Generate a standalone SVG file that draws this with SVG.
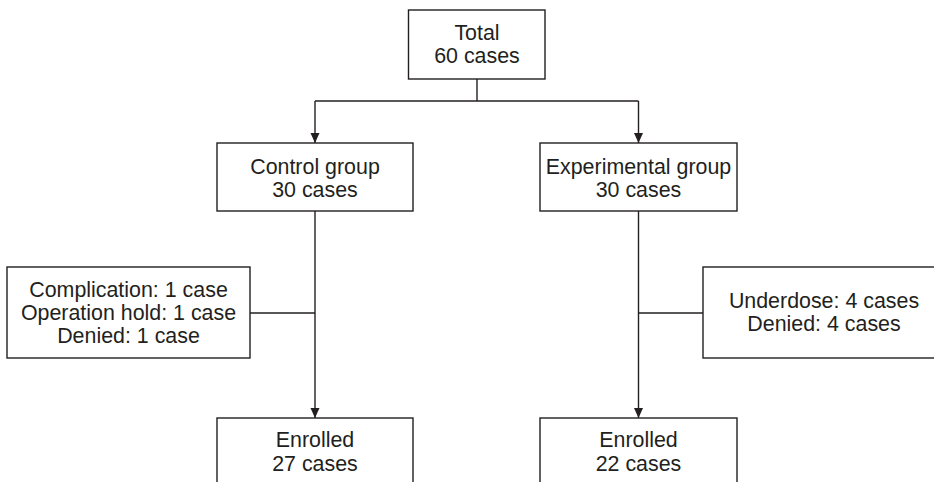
<svg xmlns="http://www.w3.org/2000/svg" width="934" height="482" viewBox="0 0 934 482">
<style>
.box{fill:#fff;stroke:#231f20;stroke-width:1.4}
.ln{fill:none;stroke:#231f20;stroke-width:1.4}
text{font-family:"Liberation Sans",Arial,sans-serif;font-size:21.4px;fill:#231f20;text-anchor:middle}
</style>
<defs>
<marker id="arr" markerUnits="userSpaceOnUse" markerWidth="10" markerHeight="11" refX="10" refY="5" orient="auto">
<path d="M0,0.5 L10,5 L0,9.5 Z" fill="#231f20"/>
</marker>
</defs>
<g id="connectors">
<line class="ln" x1="477" y1="79" x2="477" y2="101"/>
<line class="ln" x1="315" y1="101" x2="638.5" y2="101"/>
<line class="ln" x1="315" y1="101" x2="315" y2="143" marker-end="url(#arr)"/>
<line class="ln" x1="638.5" y1="101" x2="638.5" y2="143" marker-end="url(#arr)"/>
<line class="ln" x1="315" y1="211" x2="315" y2="418" marker-end="url(#arr)"/>
<line class="ln" x1="638.5" y1="211" x2="638.5" y2="418" marker-end="url(#arr)"/>
<line class="ln" x1="250" y1="313" x2="315" y2="313"/>
<line class="ln" x1="638.5" y1="313" x2="703" y2="313"/>
</g>
<g id="total">
<rect class="box" x="408.5" y="10" width="136.5" height="69"/>
<text x="477" y="40">Total</text>
<text x="477" y="63">60 cases</text>
</g>
<g id="control">
<rect class="box" x="217" y="143" width="196" height="68"/>
<text x="315" y="174">Control group</text>
<text x="315" y="197">30 cases</text>
</g>
<g id="experimental">
<rect class="box" x="540" y="143" width="197" height="68"/>
<text x="638.5" y="174">Experimental group</text>
<text x="638.5" y="197">30 cases</text>
</g>
<g id="control-excluded">
<rect class="box" x="7" y="267" width="243" height="91"/>
<text x="128.5" y="297">Complication: 1 case</text>
<text x="128.5" y="320">Operation hold: 1 case</text>
<text x="128.5" y="343">Denied: 1 case</text>
</g>
<g id="experimental-excluded">
<rect class="box" x="703" y="267" width="245" height="91"/>
<text x="824" y="308">Underdose: 4 cases</text>
<text x="824" y="331">Denied: 4 cases</text>
</g>
<g id="control-enrolled">
<rect class="box" x="217" y="418" width="196" height="72"/>
<text x="315" y="447">Enrolled</text>
<text x="315" y="471">27 cases</text>
</g>
<g id="experimental-enrolled">
<rect class="box" x="540" y="418" width="197" height="72"/>
<text x="638.5" y="447">Enrolled</text>
<text x="638.5" y="471">22 cases</text>
</g>
</svg>
